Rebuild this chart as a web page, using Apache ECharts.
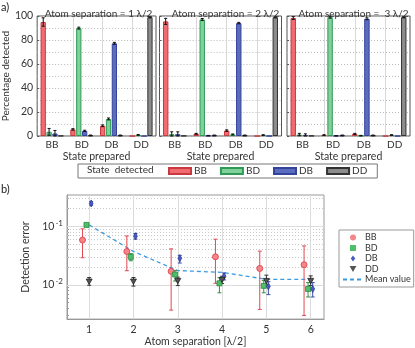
<!DOCTYPE html>
<html><head><meta charset="utf-8">
<script src="https://cdn.jsdelivr.net/npm/echarts@6/dist/echarts.min.js"></script>
<style>html,body{margin:0;padding:0;background:#fff}#c{width:415px;height:348px}</style>
</head><body><div id="c"></div>
<script>
// ---------- data: panel a) ----------
const statesPrepared = ['BB', 'BD', 'DB', 'DD'];
const statesDetected = ['BB', 'BD', 'DB', 'DD'];
const panelTitles = ['Atom separation = 1 λ/2', 'Atom separation = 2 λ/2', 'Atom separation =  3 λ/2'];
const percentTicks = [0, 20, 40, 60, 80, 100];
// percentage detected, [separation][prepared state]
const detectedBB = [[95, 5.5, 8.5, 0], [95.5, 1.8, 4.5, 0], [98.3, 0.8, 1.8, 0]];
const detectedBD = [[3.5, 89.9, 14.2, 0.9], [1.5, 97.1, 1.3, 0.8], [1.2, 99.0, 0.3, 0.8]];
const detectedDB = [[2.1, 4.3, 77.2, 0], [1.5, 0.3, 94.1, 0], [0.8, 0.2, 97.7, 0]];
const detectedDD = [[0.2, 0.5, 0.5, 99.0], [0.2, 0.5, 0.5, 99.0], [0.2, 0.5, 0.5, 99.0]];
const errorBB = [[3.5, 0.6, 0.7, 0], [2.5, 0.4, 0.6, 0], [1.2, 0.3, 0.4, 0]];
const errorBD = [[2.8, 0.8, 0.8, 0.3], [2.0, 0.8, 0.4, 0.3], [1.0, 0.8, 0.2, 0.3]];
const errorDB = [[2.5, 0.5, 0.8, 0], [2.0, 0.2, 0.6, 0], [1.0, 0.2, 0.8, 0]];
const errorDD = [[0, 0.3, 0.3, 0.5], [0, 0.3, 0.3, 0.5], [0, 0.3, 0.3, 0.5]];

// ---------- data: panel b) ----------
const separations = [1, 2, 3, 4, 5, 6];
const errBB = [0.058, 0.037, 0.017, 0.030, 0.019, 0.022];
const errBBlow = [0.029, 0.0174, 0.0037, 0.0106, 0.0038, 0.0030];
const errBBhigh = [0.090, 0.068, 0.041, 0.060, 0.0375, 0.046];
const errBD = [0.105, 0.030, 0.015, 0.0106, 0.0096, 0.0085];
const errBDlow = [0.101, 0.0257, 0.0116, 0.0073, 0.0073, 0.0062];
const errBDhigh = [0.109, 0.034, 0.0176, 0.0132, 0.0118, 0.0109];
const errDB = [0.244, 0.0676, 0.0284, 0.0140, 0.0094, 0.0085];
const errDBlow = [0.228, 0.060, 0.0235, 0.0121, 0.0068, 0.0062];
const errDBhigh = [0.262, 0.075, 0.0318, 0.0159, 0.0113, 0.0109];
const errDD = [0.0113, 0.0113, 0.0116, 0.0121, 0.0116, 0.0116];
const errDDlow = [0.0098, 0.0095, 0.0097, 0.0105, 0.0096, 0.0097];
const errDDhigh = [0.0133, 0.0133, 0.0135, 0.0140, 0.0146, 0.0142];
const meanValue = [0.105, 0.037, 0.0175, 0.0163, 0.0124, 0.0124];
const logMajorTicks = [0.01, 0.1];

// ---------- styling ----------
const FONT = 'Lato, "Open Sans", sans-serif';
const TXT = '#333';
const barFill = ['#f26b70', '#80d19b', '#5a6cc0', '#8c8c8c'];
const barEdge = ['#c63a40', '#2f9a56', '#34449a', '#333333'];
const CAT_GAP = 0.23, BAR_GAP = 0.12;
const grids = [
  { left: 31, top: 16, width: 125, height: 120 },
  { left: 159.5, top: 16, width: 122, height: 120 },
  { left: 287, top: 16, width: 123, height: 120 },
  { left: 67, top: 195, width: 257, height: 129 }
];
const detectedAll = [detectedBB, detectedBD, detectedDB, detectedDD];
const errorAll = [errorBB, errorBD, errorDB, errorDD];

const minorLog = [];
[0.001, 0.01, 0.1].forEach(d => { for (let k = 2; k <= 9; k++) minorLog.push(+(d * k).toPrecision(2)); });

const xAxes = [], yAxes = [], series = [], titles = [];
for (let p = 0; p < 3; p++) {
  const g = grids[p];
  titles.push({
    text: panelTitles[p], left: g.left + g.width / 2, top: 4, textAlign: 'center',
    textStyle: { fontFamily: FONT, fontSize: 10, fontWeight: 'normal', color: TXT }
  });
  xAxes.push({
    type: 'category', gridIndex: p, data: statesPrepared,
    name: 'State prepared', nameLocation: 'middle', nameGap: 14,
    nameTextStyle: { fontFamily: FONT, fontSize: 10.5, color: TXT },
    axisLine: { show: false }, axisTick: { show: false },
    axisLabel: { fontFamily: FONT, fontSize: 10, color: TXT, margin: 4 },
    splitLine: { show: false }
  });
  yAxes.push({
    type: 'value', gridIndex: p, min: 0, max: 100, interval: 20,
    name: p === 0 ? 'Percentage detected' : '', nameLocation: 'middle', nameGap: 17,
    nameTextStyle: { fontFamily: FONT, fontSize: 10, color: TXT },
    axisLine: { show: false },
    axisTick: { show: true, inside: true, length: 2, lineStyle: { color: '#555' } },
    axisLabel: { show: p === 0, fontFamily: FONT, fontSize: 10.5, color: TXT, margin: 4 },
    splitLine: { show: true, lineStyle: { color: '#bbb', type: [1, 2], width: 1 } },
    minorTick: { show: false, splitNumber: 2 },
    minorSplitLine: { show: true, lineStyle: { color: '#bbb', type: [1, 2], width: 1 } }
  });
  for (let s = 0; s < 4; s++) {
    const ser = {
      type: 'bar', name: statesDetected[s], xAxisIndex: p, yAxisIndex: p,
      data: detectedAll[s][p], barCategoryGap: (CAT_GAP * 100) + '%', barGap: (BAR_GAP * 100) + '%',
      itemStyle: { color: barFill[s], borderColor: barEdge[s], borderWidth: 1 },
      emphasis: { disabled: true }, z: 3
    };
    if (s === 0) {
      ser.markLine = {
        silent: true, symbol: 'none', label: { show: false },
        lineStyle: { color: '#d8d8d8', type: 'solid', width: 1 },
        data: statesPrepared.map(c => ({ xAxis: c })), z: 1
      };
    }
    series.push(ser);
  }
  const ebData = [];
  for (let s = 0; s < 4; s++) for (let c = 0; c < 4; c++) ebData.push([c, s, detectedAll[s][p][c], errorAll[s][p][c]]);
  series.push({
    type: 'custom', xAxisIndex: p, yAxisIndex: p, data: ebData, z: 5, silent: true,
    encode: { x: 0, y: 2 },
    renderItem: function (params, api) {
      const c = api.value(0), s = api.value(1), v = api.value(2), e = api.value(3);
      if (!(e > 0)) return { type: 'group', children: [] };
      const band = api.size([1, 0])[0];
      const cen = api.coord([c, v]);
      const avail = band * (1 - CAT_GAP);
      const bw = avail / (4 + 3 * BAR_GAP);
      const x = cen[0] - avail / 2 + bw / 2 + s * bw * (1 + BAR_GAP);
      const yt = api.coord([c, v + e])[1], yb = api.coord([c, Math.max(0, v - e)])[1];
      const st = { stroke: '#111', lineWidth: 1 };
      const w = 1.5;
      return { type: 'group', children: [
        { type: 'line', shape: { x1: x, y1: yt, x2: x, y2: yb }, style: st },
        { type: 'line', shape: { x1: x - w, y1: yt, x2: x + w, y2: yt }, style: st },
        { type: 'line', shape: { x1: x - w, y1: yb, x2: x + w, y2: yb }, style: st }
      ] };
    }
  });
}

// bottom axes
xAxes.push({
  type: 'value', gridIndex: 3, min: 0.5, max: 6.3,
  name: 'Atom separation [λ/2]', nameLocation: 'middle', nameGap: 13,
  nameTextStyle: { fontFamily: FONT, fontSize: 10.5, color: TXT },
  axisLine: { show: true, onZero: false, lineStyle: { color: '#999' } },
  axisTick: { show: true, inside: true, length: 3, customValues: separations, lineStyle: { color: '#999' } },
  axisLabel: { fontFamily: FONT, fontSize: 10.5, color: TXT, margin: 5, customValues: separations },
  splitLine: { show: false }
});
yAxes.push({
  type: 'log', logBase: 10, gridIndex: 3, min: 0.0026, max: 0.34,
  name: 'Detection error', nameLocation: 'middle', nameGap: 27,
  nameTextStyle: { fontFamily: FONT, fontSize: 10.5, color: TXT },
  axisLine: { show: true, lineStyle: { color: '#999' } },
  axisTick: { show: true, inside: true, length: 2, customValues: minorLog.concat(logMajorTicks), lineStyle: { color: '#999' } },
  axisLabel: {
    customValues: logMajorTicks, margin: 4,
    formatter: v => '{b|10}{s|' + Math.round(Math.log10(v)) + '}',
    rich: {
      b: { fontFamily: FONT, fontSize: 10.5, color: TXT },
      s: { fontFamily: FONT, fontSize: 8, color: TXT, verticalAlign: 'top', padding: [0, 0, 6, 1] }
    }
  },
  splitLine: { show: false }
});

const pointSets = [
  { name: 'BB ', val: errBB, lo: errBBlow, hi: errBBhigh, dx: -0.15, symbol: 'circle', size: 6, fill: '#f3868b', edge: '#e03842', bar: '#e04a52' },
  { name: 'BD ', val: errBD, lo: errBDlow, hi: errBDhigh, dx: -0.06, symbol: 'path://M0,0L1,0L1,1L0,1Z', size: 5, fill: '#4fbf6a', edge: '#24883e', bar: '#2f9048' },
  { name: 'DB ', val: errDB, lo: errDBlow, hi: errDBhigh, dx: 0.045, symbol: 'path://M3,0L6,4L3,8L0,4Z', size: [5, 7], fill: '#4a5cc4', edge: '#2d3c9a', bar: '#3a4ab0' },
  { name: 'DD ', val: errDD, lo: errDDlow, hi: errDDhigh, dx: 0, symbol: 'path://M0,0L8,0L4,7Z', size: 6, fill: '#555', edge: '#222', bar: '#333' }
];

// mean line + grid lines for bottom panel
series.push({
  type: 'line', name: 'Mean value', xAxisIndex: 3, yAxisIndex: 3,
  data: separations.map((x, i) => [x, meanValue[i]]),
  symbol: 'none', lineStyle: { color: '#3a9be0', width: 1.3, type: [4, 3] },
  itemStyle: { color: '#3a9be0' }, z: 3, silent: true,
  markLine: {
    silent: true, symbol: 'none', label: { show: false }, z: 1,
    data: [
      ...minorLog.map(v => ({ yAxis: v, lineStyle: { color: '#c8c8c8', type: [1, 2], width: 1 } })),
      ...logMajorTicks.map(v => ({ yAxis: v, lineStyle: { color: '#dcdcdc', type: 'solid', width: 1 } })),
      ...separations.map(v => ({ xAxis: v, lineStyle: { color: '#dcdcdc', type: 'solid', width: 1 } }))
    ]
  }
});

pointSets.forEach(ps => {
  series.push({
    type: 'custom', xAxisIndex: 3, yAxisIndex: 3, z: 4, silent: true,
    data: separations.map((x, i) => [x + ps.dx, ps.val[i], ps.lo[i], ps.hi[i]]),
    encode: { x: 0, y: 1 },
    renderItem: function (params, api) {
      const x = api.value(0);
      const p1 = api.coord([x, api.value(3)]), p2 = api.coord([x, api.value(2)]);
      const st = { stroke: ps.bar, lineWidth: 1 };
      const w = 2;
      return { type: 'group', children: [
        { type: 'line', shape: { x1: p1[0], y1: p1[1], x2: p2[0], y2: p2[1] }, style: st },
        { type: 'line', shape: { x1: p1[0] - w, y1: p1[1], x2: p1[0] + w, y2: p1[1] }, style: st },
        { type: 'line', shape: { x1: p2[0] - w, y1: p2[1], x2: p2[0] + w, y2: p2[1] }, style: st }
      ] };
    }
  });
  series.push({
    type: 'scatter', name: ps.name, xAxisIndex: 3, yAxisIndex: 3, z: 6,
    data: separations.map((x, i) => [x + ps.dx, ps.val[i]]),
    symbol: ps.symbol, symbolSize: ps.size, symbolKeepAspect: true,
    itemStyle: { color: ps.fill, borderColor: ps.edge, borderWidth: 0.8, opacity: 1 },
    emphasis: { disabled: true }
  });
});

const option = {
  animation: false,
  backgroundColor: '#fff',
  textStyle: { fontFamily: FONT },
  title: titles,
  grid: grids.map((g, i) => Object.assign({ show: true, borderColor: i === 3 ? '#999' : '#555', borderWidth: 1, backgroundColor: 'transparent', containLabel: false }, g)),
  xAxis: xAxes,
  yAxis: yAxes,
  legend: [
    {
      data: statesDetected, left: 78, top: 164, orient: 'horizontal',
      icon: 'rect', itemWidth: 22, itemHeight: 6, itemGap: 13,
      padding: [2, 10, 2, 90], borderColor: '#777', borderWidth: 1,
      textStyle: { fontFamily: FONT, fontSize: 10, color: TXT, padding: [0, 0, 0, -2] },
      selectedMode: false
    },
    {
      data: [
        { name: 'BB ', itemStyle: { borderWidth: 0 } }, { name: 'BD ', icon: pointSets[1].symbol, itemStyle: { borderWidth: 0 } },
        { name: 'DB ', icon: pointSets[2].symbol, itemStyle: { borderWidth: 0 } },
        { name: 'DD ', icon: pointSets[3].symbol, itemStyle: { borderWidth: 0 } },
        { name: 'Mean value', itemStyle: { color: 'rgba(0,0,0,0)', opacity: 0, borderWidth: 0 } }
      ],
      left: 339, top: 230, orient: 'vertical', itemWidth: 20, itemHeight: 6, itemGap: 1.5,
      padding: [3, 3, 3, 3], borderColor: '#999', borderWidth: 1,
      formatter: n => n.trim(),
      textStyle: { fontFamily: FONT, fontSize: 9, color: TXT, lineHeight: 9, padding: [0, 0, 0, -3] },
      selectedMode: false
    }
  ],
  graphic: [
    { type: 'text', left: 1, top: 2, style: { text: 'a)', font: '11px ' + FONT, fill: '#222' } },
    { type: 'text', left: 1, top: 184, style: { text: 'b)', font: '11px ' + FONT, fill: '#222' } },
    { type: 'text', left: 87, top: 165, style: { text: 'State  detected', font: '10px ' + FONT, fill: TXT } }
  ],
  series: series
};
const chart = echarts.init(document.getElementById('c'), null, { renderer: 'canvas' });
chart.setOption(option);
</script></body></html>
